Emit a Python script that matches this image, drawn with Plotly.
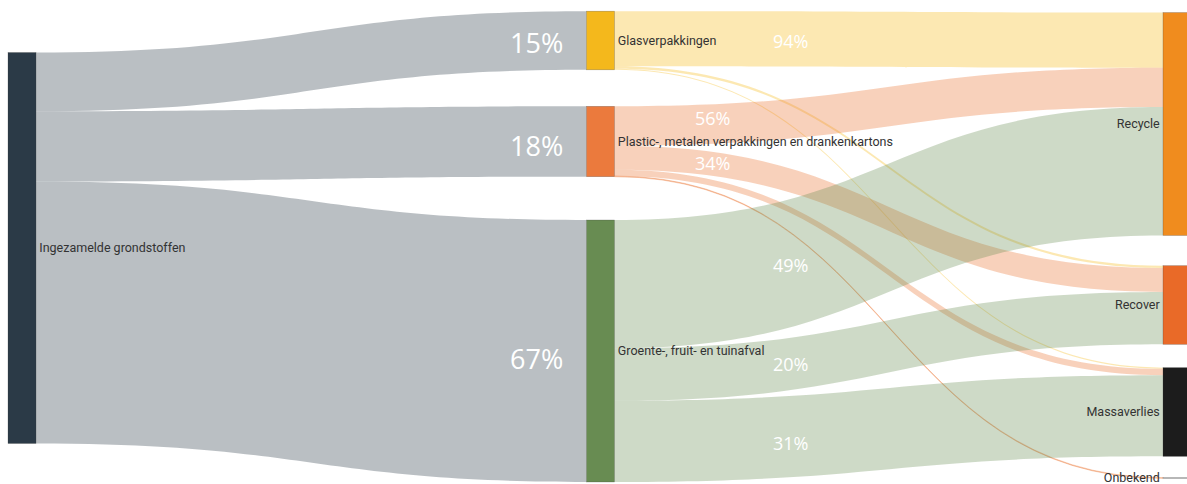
import plotly.graph_objects as go

# ---- data ----
node_labels = [
    "Ingezamelde grondstoffen",
    "Glasverpakkingen",
    "Plastic-, metalen verpakkingen en drankenkartons",
    "Groente-, fruit- en tuinafval",
    "Recycle",
    "Recover",
    "Massaverlies",
    "Onbekend",
]
streams = ["Glasverpakkingen", "Plastic-, metalen verpakkingen en drankenkartons",
           "Groente-, fruit- en tuinafval"]
stream_share = [15, 18, 67]          # % of collected material
destinations = ["Recycle", "Recover", "Massaverlies", "Onbekend"]
glas_pct = [94, 4, 2, 0]
plastic_pct = [56, 34, 9, 1]
gft_pct = [49, 20, 31, 0]

node_colors = ["#2b3a47", "#f4b81c", "#eb7a3d", "#688c52",
               "#f08c1e", "#e96a28", "#1c1c1c", "#a9a9a9"]
link_rgb = {"Ingezamelde grondstoffen": "rgba(130,138,146,0.55)",
            "Glasverpakkingen": "rgba(245,185,20,0.33)",
            "Plastic-, metalen verpakkingen en drankenkartons": "rgba(234,122,60,0.35)",
            "Groente-, fruit- en tuinafval": "rgba(103,139,80,0.32)"}

idx = {n: i for i, n in enumerate(node_labels)}
src, tgt, val, lcol = [], [], [], []
for s, share in zip(streams, stream_share):
    src.append(idx["Ingezamelde grondstoffen"]); tgt.append(idx[s]); val.append(share)
    lcol.append(link_rgb["Ingezamelde grondstoffen"])
for s, share, pcts in zip(streams, stream_share, [glas_pct, plastic_pct, gft_pct]):
    for d, p in zip(destinations, pcts):
        if p > 0:
            src.append(idx[s]); tgt.append(idx[d]); val.append(share * p / 100)
            lcol.append(link_rgb[s])

W, H = 1187, 484


def fx(px):
    return px / W


def fy(py):
    return py / H


node_x = [fx(22), fx(600.5), fx(600.5), fx(600.5), fx(1177), fx(1177), fx(1177), fx(1177)]
node_y = [fy(248), fy(40.5), fy(141.5), fy(351), fy(124), fy(305), fy(412), fy(478)]

fig = go.Figure(go.Sankey(
    arrangement="fixed",
    node=dict(label=node_labels, color=node_colors, x=node_x, y=node_y,
              pad=31, thickness=28, line=dict(color="rgba(60,60,60,0.5)", width=0.5)),
    link=dict(source=src, target=tgt, value=val, color=lcol),
    textfont=dict(family="Roboto", size=12.5, color="#333333", shadow="none"),
))

ann = []
big_pos = [(565, 42), (565, 145), (565, 358)]
for share, (px, py) in zip(stream_share, big_pos):
    ann.append(dict(text=f"{share}%", x=fx(px), y=1 - fy(py), xanchor="right", yanchor="middle",
                    font=dict(family="Open Sans", size=27, color="white")))
small = [(glas_pct[0], 790, 41), (plastic_pct[0], 712, 118), (plastic_pct[1], 712, 163),
         (gft_pct[0], 790, 265), (gft_pct[1], 790, 364), (gft_pct[2], 790, 443)]
for p, px, py in small:
    ann.append(dict(text=f"{p:g}%", x=fx(px), y=1 - fy(py), xanchor="center", yanchor="middle",
                    font=dict(family="Open Sans", size=18, color="white")))
for a in ann:
    a.update(xref="paper", yref="paper", showarrow=False)

fig.update_layout(width=W, height=H, margin=dict(l=0, r=0, t=0, b=0),
                  paper_bgcolor="white", annotations=ann)
fig.write_html("out.html", config={"displayModeBar": False},
               post_script="document.body.style.margin='0';"
                           "document.body.style.overflow='hidden';"
                           "document.documentElement.style.overflow='hidden';")
